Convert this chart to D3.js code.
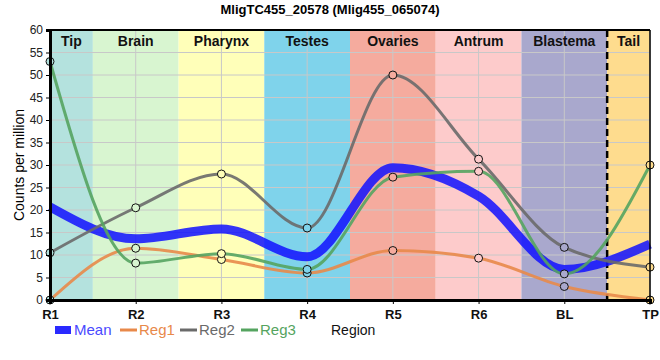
<html>
<head>
<meta charset="utf-8">
<style>
 body { margin: 0; background: #fff; }
 text { font-family: "Liberation Sans", Arial, sans-serif; }
</style>
<script src="https://d3js.org/d3.v7.min.js"></script>
</head>
<body>
<svg id="chart" width="660" height="360"></svg>
<script>
 // data
 var regions = ['R1', 'R2', 'R3', 'R4', 'R5', 'R6', 'BL', 'TP'];
 var mean = [20.7, 13.6, 15.8, 9.6, 29.4, 23.1, 6.8, 12.4];
 var reg1 = [0, 11.5, 9.0, 6.0, 11.0, 9.3, 3.0, 0];
 var reg2 = [10.5, 20.5, 28.0, 16.0, 50.0, 31.3, 11.7, 7.3];
 var reg3 = [53.0, 8.2, 10.3, 6.8, 27.3, 28.6, 5.8, 30.0];
 var yTicks = [0, 5, 10, 15, 20, 25, 30, 35, 40, 45, 50, 55, 60];

 // bands: name, start index, end index (half steps)
 var bandNames = ['Tip', 'Brain', 'Pharynx', 'Testes', 'Ovaries', 'Antrum', 'Blastema', 'Tail'];
 var bandFrom = [0, 0.5, 1.5, 2.5, 3.5, 4.5, 5.5, 6.5];
 var bandTo = [0.5, 1.5, 2.5, 3.5, 4.5, 5.5, 6.5, 7];
 var bandColors = ['#b4e2de', '#d8f5d0', '#ffffb9', '#7fd3eb', '#f5ab9e', '#fdcbcb', '#a9a8cd', '#fedc8e'];

 var svg = d3.select('#chart');
 var pLeft = 50, pRight = 650, pTop = 30, pBottom = 300;

 var x = d3.scaleLinear().domain([0, regions.length - 1]).range([pLeft, pRight]);
 var y = d3.scaleLinear().domain([0, 60]).range([pBottom, pTop]);

 // background bands
 svg.selectAll('rect.band')
    .data(bandNames)
    .enter().append('rect')
    .attr('x', function(d, i) { return x(bandFrom[i]); })
    .attr('y', pTop)
    .attr('width', function(d, i) { return x(bandTo[i]) - x(bandFrom[i]); })
    .attr('height', pBottom - pTop)
    .attr('fill', function(d, i) { return bandColors[i]; });

 // grid
 svg.selectAll('line.hgrid')
    .data(yTicks)
    .enter().append('line')
    .attr('x1', pLeft).attr('x2', pRight)
    .attr('y1', function(d) { return y(d); })
    .attr('y2', function(d) { return y(d); })
    .attr('stroke', '#c8c8c8').attr('stroke-width', 1);
 svg.selectAll('line.vgrid')
    .data(regions)
    .enter().append('line')
    .attr('y1', pTop).attr('y2', pBottom)
    .attr('x1', function(d, i) { return x(i); })
    .attr('x2', function(d, i) { return x(i); })
    .attr('stroke', '#c8c8c8').attr('stroke-width', 1);

 // band labels
 svg.selectAll('text.band')
    .data(bandNames)
    .enter().append('text')
    .attr('x', function(d, i) { return (x(bandFrom[i]) + x(bandTo[i])) / 2; })
    .attr('y', 46)
    .attr('text-anchor', 'middle')
    .style('font-size', '14px').style('font-weight', 'bold').attr('fill', '#111')
    .text(function(d) { return d; });

 // dashed tail separator
 svg.append('line')
    .attr('x1', x(6.5)).attr('x2', x(6.5))
    .attr('y1', pTop).attr('y2', pBottom)
    .attr('stroke', '#000').attr('stroke-width', 2.5)
    .attr('stroke-dasharray', '7,4');

 var line = d3.line()
    .x(function(d, i) { return x(i); })
    .y(function(d) { return y(d); })
    .curve(d3.curveMonotoneX);

 var series = [
     {name: 'Reg1', values: reg1, color: '#e8894a'},
     {name: 'Reg2', values: reg2, color: '#6a6a6a'},
     {name: 'Reg3', values: reg3, color: '#55a460'}
 ];

 svg.append('path')
    .attr('d', line(mean))
    .attr('fill', 'none')
    .attr('stroke', '#1010ff').attr('stroke-opacity', 0.85)
    .attr('stroke-width', 9);

 series.forEach(function(s) {
     svg.append('path')
        .attr('d', line(s.values))
        .attr('fill', 'none')
        .attr('stroke', s.color).attr('stroke-opacity', 0.9)
        .attr('stroke-width', 3);
 });

 function bandColorAt(i) {
     for (var b = 0; b < bandNames.length; b++) {
         if (i >= bandFrom[b] && i <= bandTo[b]) return bandColors[b];
     }
     return '#fff';
 }

 series.forEach(function(s) {
     svg.selectAll(null)
        .data(s.values)
        .enter().append('circle')
        .attr('cx', function(d, i) { return x(i); })
        .attr('cy', function(d) { return y(d); })
        .attr('r', 4)
        .attr('fill', function(d, i) { return bandColorAt(i === 0 ? 0.2 : i); })
        .attr('stroke', '#111').attr('stroke-width', 1);
 });

 // frame
 svg.append('line').attr('x1', pLeft).attr('x2', pRight).attr('y1', pTop).attr('y2', pTop)
    .attr('stroke', '#000').attr('stroke-width', 2);
 svg.append('line').attr('x1', pRight).attr('x2', pRight).attr('y1', pTop).attr('y2', pBottom)
    .attr('stroke', '#000').attr('stroke-width', 1.5);

 // axes
 var yAxis = d3.axisLeft(y).tickValues(yTicks).tickSize(4).tickFormat(d3.format('d'));
 var gy = svg.append('g').attr('transform', 'translate(' + pLeft + ',0)').call(yAxis);
 gy.select('.domain').attr('stroke-width', 3);
 gy.selectAll('text').style('font-size', '12px').attr('fill', '#222');

 var xAxis = d3.axisBottom(x).tickValues(d3.range(regions.length))
    .tickSize(4).tickFormat(function(d) { return regions[d]; });
 var gx = svg.append('g').attr('transform', 'translate(0,' + pBottom + ')').call(xAxis);
 gx.select('.domain').attr('stroke-width', 3);
 gx.selectAll('text').style('font-size', '13px').style('font-weight', 'bold').attr('fill', '#111').attr('dy', '0.9em');

 // title
 svg.append('text')
    .attr('x', 330).attr('y', 14)
    .attr('text-anchor', 'middle')
    .style('font-size', '13px').style('font-weight', 'bold')
    .text('MligTC455_20578 (Mlig455_065074)');

 // y label
 svg.append('text')
    .attr('transform', 'translate(24,165) rotate(-90)')
    .attr('text-anchor', 'middle')
    .style('font-size', '14px')
    .text('Counts per million');

 // legend
 var leg = svg.append('g').attr('transform', 'translate(0,330)');
 leg.append('rect').attr('x', 55).attr('y', -4).attr('width', 16).attr('height', 8).attr('fill', '#2a2aff');
 leg.append('text').attr('x', 74).attr('y', 5).style('font-size', '15px').attr('fill', '#4a4aff').text('Mean');
 var legX = [120, 180, 241];
 series.forEach(function(s, i) {
     leg.append('line').attr('x1', legX[i]).attr('x2', legX[i] + 17).attr('y1', 0).attr('y2', 0)
        .attr('stroke', s.color).attr('stroke-width', 3);
     leg.append('text').attr('x', legX[i] + 19).attr('y', 5).style('font-size', '15px')
        .attr('fill', s.color).text(s.name);
 });
 leg.append('text').attr('x', 331).attr('y', 5).style('font-size', '14px').attr('fill', '#111').text('Region');
</script>
</body>
</html>
